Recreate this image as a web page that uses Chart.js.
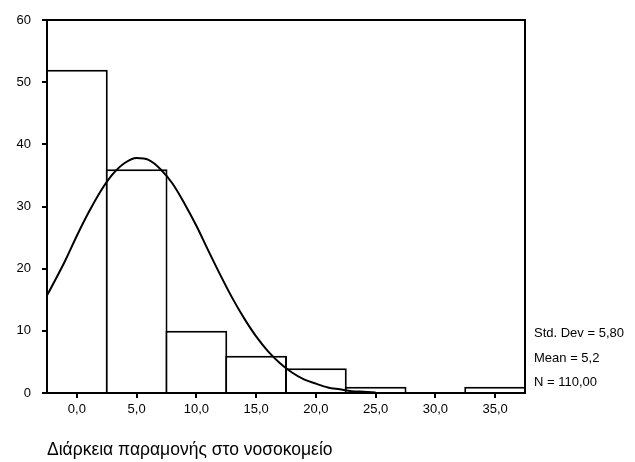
<!DOCTYPE html>
<html>
<head>
<meta charset="utf-8">
<script src="https://cdn.jsdelivr.net/npm/chart.js@4/dist/chart.umd.min.js"></script>
<style>
  body { margin: 0; background: #fff; }
  #wrap { width: 635px; height: 462px; }
</style>
</head>
<body>
<div id="wrap"><canvas id="chart-hist" width="635" height="462"></canvas></div>
<script>
// Histogram bins (centres) and counts
const binCenters = [0, 5, 10, 15, 20, 25, 30, 35];
const counts = [52, 36, 10, 6, 4, 1, 0, 1];

// Normal curve
const curveX = [-2.5, -2, -1, 0, 1, 2, 3, 4, 5, 6, 7, 8, 9, 10, 11, 12, 13, 14, 15, 16, 17, 18, 19, 20, 21, 22, 23, 24, 25];
const curveY = [15.7, 17.5, 21.2, 25.3, 29.1, 32.5, 35.2, 37.0, 37.8, 37.5, 36.0, 33.7, 30.5, 26.9, 22.9, 19.0, 15.3, 12.0, 9.1, 6.7, 4.8, 3.3, 2.2, 1.5, 0.9, 0.6, 0.3, 0.2, 0.1];

// Axis ticks
const xTicks = [0, 5, 10, 15, 20, 25, 30, 35];
const yTicks = [0, 10, 20, 30, 40, 50, 60];

const statsLines = ['Std. Dev = 5,80', 'Mean = 5,2', 'N = 110,00'];
const xTitle = 'Διάρκεια παραμονής στο νοσοκομείο';

const FONT = '"Liberation Sans", Arial, sans-serif';
Chart.defaults.font.family = FONT;
Chart.defaults.font.size = 13;
Chart.defaults.color = '#000';

// frame round the plot area + stats text on the right
const framePlugin = {
  id: 'frame',
  afterDraw(chart) {
    const { ctx, chartArea: a } = chart;
    ctx.save();
    ctx.strokeStyle = '#000';
    ctx.lineWidth = 2;
    ctx.beginPath();
    ctx.moveTo(a.left, a.top);
    ctx.lineTo(a.right, a.top);
    ctx.lineTo(a.right, a.bottom);
    ctx.stroke();

    ctx.font = '13px ' + FONT;
    ctx.fillStyle = '#000';
    ctx.textBaseline = 'middle';
    ctx.textAlign = 'left';
    const offs = [60, 35, 11];
    statsLines.forEach((t, i) => ctx.fillText(t, a.right + 9, a.bottom - offs[i]));
    ctx.restore();
  }
};

new Chart(document.getElementById('chart-hist'), {
  data: {
    datasets: [
      {
        type: 'line',
        data: curveX.map((x, i) => ({ x, y: curveY[i] })),
        borderColor: '#000',
        borderWidth: 2,
        pointRadius: 0,
        fill: false,
        cubicInterpolationMode: 'monotone',
        order: 0
      },
      {
        type: 'bar',
        data: binCenters.map((x, i) => ({ x, y: counts[i] })),
        backgroundColor: '#fff',
        borderColor: '#000',
        borderWidth: { top: 2, left: 2, right: 2, bottom: 0 },
        borderSkipped: false,
        // slightly wider than the bin so neighbouring borders sit on top of each other
        barPercentage: 1.034,
        categoryPercentage: 1,
        order: 1
      }
    ]
  },
  options: {
    responsive: false,
    animation: false,
    layout: { padding: { top: 20, right: 110, left: 0, bottom: 0 } },
    plugins: { legend: { display: false }, tooltip: { enabled: false } },
    scales: {
      x: {
        type: 'linear',
        min: -2.5,
        max: 37.5,
        offset: false,
        afterFit: s => { s.height = 69; },
        afterBuildTicks: s => { s.ticks = xTicks.map(v => ({ value: v })); },
        grid: { drawOnChartArea: false, drawTicks: true, tickLength: 5, color: '#000', lineWidth: 2, offset: false },
        border: { color: '#000', width: 2 },
        ticks: {
          padding: 4,
          maxRotation: 0,
          callback: v => v.toFixed(1).replace('.', ',')
        },
        title: {
          display: true,
          text: xTitle,
          align: 'start',
          font: { size: 17.5 },
          padding: { top: 0, bottom: 1 }
        }
      },
      y: {
        min: 0,
        max: 60,
        afterFit: s => { s.width = 47; },
        afterBuildTicks: s => { s.ticks = yTicks.map(v => ({ value: v })); },
        grid: { drawOnChartArea: false, drawTicks: true, tickLength: 5, color: '#000', lineWidth: 2 },
        border: { color: '#000', width: 2 },
        ticks: { padding: 11 }
      }
    }
  },
  plugins: [framePlugin]
});
</script>
</body>
</html>
